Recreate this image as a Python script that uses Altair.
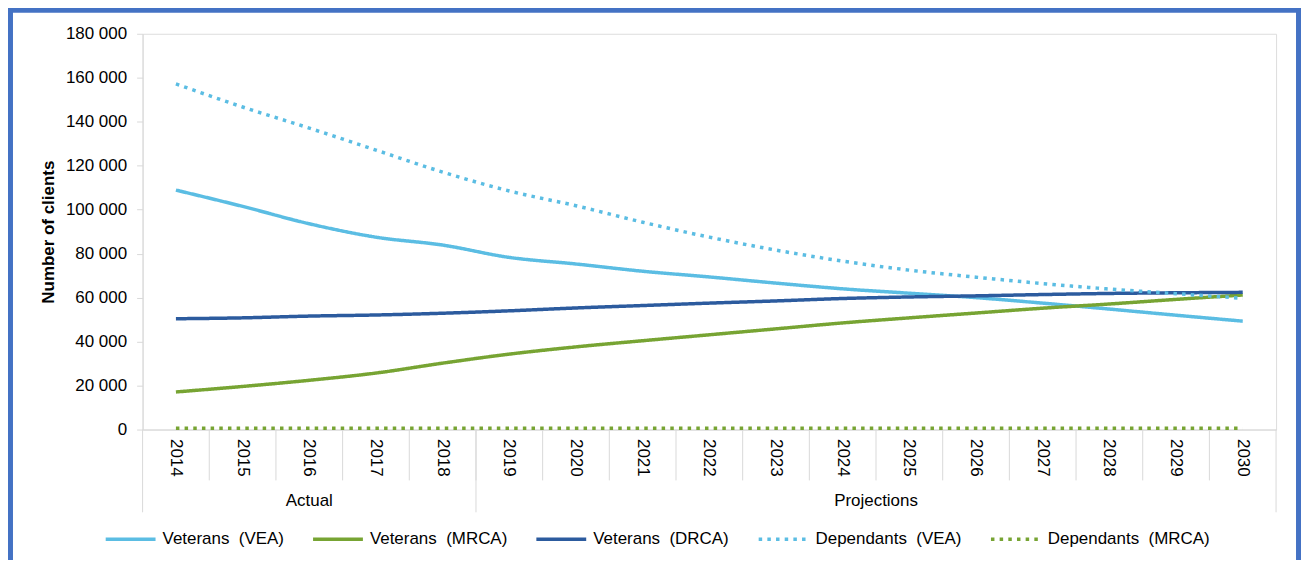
import altair as alt
import pandas as pd

years = list(range(2014, 2031))

veterans_vea = [108900, 101500, 93600, 87500, 83900, 78300, 75300, 72000, 69400, 66600,
                64000, 62000, 60000, 57500, 54800, 52000, 49300]
veterans_mrca = [17100, 19600, 22400, 25700, 30200, 34300, 37600, 40400, 43100, 45800,
                 48500, 50800, 53000, 55200, 57100, 59200, 61200]
veterans_drca = [50400, 50800, 51600, 52100, 52900, 54000, 55300, 56400, 57500, 58500,
                 59600, 60300, 60800, 61400, 61900, 62200, 62400]
dependants_vea = [157200, 146700, 137100, 127100, 117100, 108500, 101800, 94300, 87500, 81600,
                  76600, 72500, 69300, 66400, 63900, 61800, 59700]
dependants_mrca = [600] * 17

series_names = ["Veterans\u00a0 (VEA)", "Veterans\u00a0 (MRCA)", "Veterans\u00a0 (DRCA)",
                "Dependants\u00a0 (VEA)", "Dependants\u00a0 (MRCA)"]
series_values = [veterans_vea, veterans_mrca, veterans_drca, dependants_vea, dependants_mrca]
colors = ["#5BBDE3", "#77A433", "#2C5B9E", "#5BBDE3", "#77A433"]
dot = [3.5, 5.2]
dashes = [[1, 0], [1, 0], [1, 0], dot, dot]

y_ticks = list(range(0, 180001, 20000))
group_labels = ["Actual", "Projections"]

rows = []
for name, vals in zip(series_names, series_values):
    for yr, v in zip(years, vals):
        rows.append({"year": yr, "series": name, "value": v})
df = pd.DataFrame(rows)

GRID = "#D9D9D9"
FONT = "Liberation Sans"
FRAME = "#4472C4"

x_axis = alt.Axis(title=None, labelAngle=90, labelFontSize=17, labelColor="#000000",
                  ticks=False, tickSize=0, domainColor=GRID, labelPadding=9, labelFont=FONT)
x_scale = alt.Scale(type="band", paddingInner=0, paddingOuter=0)

legend = alt.Legend(orient="none", legendX=-39, legendY=480, direction="horizontal",
                    title=None, symbolType="stroke", symbolSize=2500, symbolStrokeWidth=3.5,
                    labelFontSize=17, labelColor="#000000", labelFont=FONT, labelLimit=400,
                    columnPadding=22, labelOffset=5, padding=0)

lines = alt.Chart(df).mark_line(strokeWidth=3.5, interpolate="monotone").encode(
    x=alt.X("year:O", bandPosition=0.5, scale=x_scale, axis=x_axis),
    y=alt.Y("value:Q", scale=alt.Scale(domain=[0, 180000]),
            axis=alt.Axis(values=y_ticks, grid=False, tickSize=6, tickColor=GRID,
                          domainColor=GRID, labelFontSize=17, labelColor="#000000",
                          labelFont=FONT, labelPadding=10,
                          labelExpr="replace(format(datum.value, ','), /,/g, ' ')",
                          title="Number of clients", titleFontSize=17, titleFont=FONT,
                          titleFontWeight="bold", titleColor="#000000", titlePadding=8)),
    color=alt.Color("series:N", scale=alt.Scale(domain=series_names, range=colors), legend=legend),
    strokeDash=alt.StrokeDash("series:N", scale=alt.Scale(domain=series_names, range=dashes),
                              legend=legend),
)

short_ticks = alt.Chart(pd.DataFrame({"year": years[1:]})).mark_rule(color=GRID, strokeWidth=1).encode(
    x=alt.X("year:O", bandPosition=0, scale=x_scale, axis=x_axis),
    y=alt.value(397), y2=alt.value(448),
)
long_ticks = alt.Chart(pd.DataFrame({"year": [years[0], 2019]})).mark_rule(color=GRID, strokeWidth=1).encode(
    x=alt.X("year:O", bandPosition=0, scale=x_scale, axis=x_axis),
    y=alt.value(397), y2=alt.value(480),
)
end_tick = alt.Chart(pd.DataFrame({"year": [years[-1]]})).mark_rule(color=GRID, strokeWidth=1).encode(
    x=alt.X("year:O", bandPosition=1, scale=x_scale, axis=x_axis),
    y=alt.value(397), y2=alt.value(480),
)

actual_txt = alt.Chart(pd.DataFrame({"year": [2016], "label": [group_labels[0]]})).mark_text(
    fontSize=17, font=FONT, color="#000000", baseline="middle", align="center").encode(
    x=alt.X("year:O", bandPosition=0.5, scale=x_scale, axis=x_axis),
    y=alt.value(469), text="label:N",
)
proj_txt = alt.Chart(pd.DataFrame({"year": [2025], "label": [group_labels[1]]})).mark_text(
    fontSize=17, font=FONT, color="#000000", baseline="middle", align="center").encode(
    x=alt.X("year:O", bandPosition=0, scale=x_scale, axis=x_axis),
    y=alt.value(469), text="label:N",
)

one = pd.DataFrame({"a": [0]})
frame_top = alt.Chart(one).mark_rule(color=FRAME, strokeWidth=5, strokeCap="square").encode(
    x=alt.value(-132.5), x2=alt.value(1159.5), y=alt.value(-23.5))
frame_left = alt.Chart(one).mark_rule(color=FRAME, strokeWidth=5, strokeCap="square").encode(
    x=alt.value(-132.5), y=alt.value(-23.5), y2=alt.value(560))
frame_right = alt.Chart(one).mark_rule(color=FRAME, strokeWidth=5, strokeCap="square").encode(
    x=alt.value(1159.5), y=alt.value(-23.5), y2=alt.value(560))

chart = alt.layer(frame_top, frame_left, frame_right, short_ticks, long_ticks, end_tick,
                  lines, actual_txt, proj_txt).properties(
    width=1137, height=397,
    padding={"left": 135, "top": 25, "right": 25, "bottom": 130},
    autosize=alt.AutoSizeParams(type="none"),
).configure_view(stroke=None).configure(font=FONT, background="white")

chart.save("out.html", embed_options={"renderer": "svg", "actions": False})
